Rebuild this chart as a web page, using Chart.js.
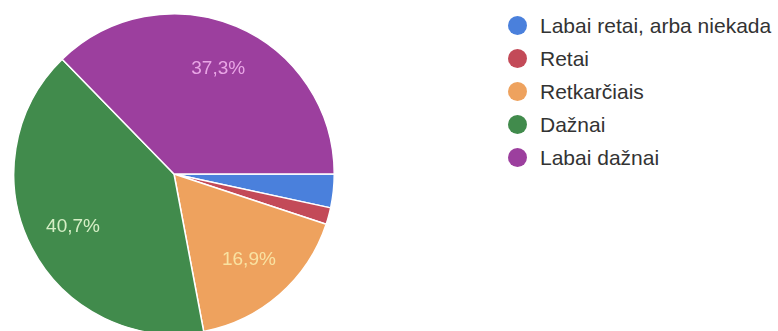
<!DOCTYPE html>
<html lang="lt">
<head>
<meta charset="utf-8">
<script src="https://cdn.jsdelivr.net/npm/chart.js@4/dist/chart.umd.min.js"></script>
<style>
  html, body { margin: 0; padding: 0; background: #fff; }
  body { width: 778px; height: 331px; overflow: hidden; position: relative; font-family: "Liberation Sans", Arial, sans-serif; }
  #pieBox { position: absolute; left: 12.5px; top: 13px; width: 322px; height: 322px; }
  #legend { position: absolute; left: 508px; top: 9px; }
  .legend-row { display: flex; align-items: center; height: 33px; font-size: 21px; color: #333333; white-space: nowrap; }
  .legend-row i { display: inline-block; width: 19px; height: 19px; border-radius: 50%; margin-right: 13px; }
</style>
</head>
<body>
<div id="pieBox"><canvas id="pie"></canvas></div>
<div id="legend"></div>
<script>
// Atsakymų pasiskirstymas (n = 59)
const categories = ['Labai retai, arba niekada', 'Retai', 'Retkarčiais', 'Dažnai', 'Labai dažnai'];
const counts = [2, 1, 10, 24, 22];
const sliceColors = ['#4a80dc', '#c34a58', '#eea25e', '#418b4c', '#9c3f9e'];
const labelColors = ['#ffffff', '#ffffff', '#f9e2a2', '#d6efc6', '#e9a6e6'];
const labelMinPct = 5;

const total = counts.reduce((s, v) => s + v, 0);

// procentai ant skilčių, su kableliu kaip dešimtainiu skirtuku
const sliceLabels = {
    id: 'sliceLabels',
    afterDatasetsDraw(chart) {
        const { ctx } = chart;
        const meta = chart.getDatasetMeta(0);
        ctx.save();
        ctx.font = '19px "Liberation Sans", Arial, sans-serif';
        ctx.textAlign = 'center';
        ctx.textBaseline = 'middle';
        meta.data.forEach((arc, i) => {
            const pct = counts[i] / total * 100;
            if (pct < labelMinPct) return;
            const mid = (arc.startAngle + arc.endAngle) / 2;
            const r = arc.outerRadius * 0.71;
            ctx.fillStyle = labelColors[i];
            ctx.fillText(pct.toFixed(1).replace('.', ',') + '%', arc.x + Math.cos(mid) * r, arc.y + Math.sin(mid) * r);
        });
        ctx.restore();
    },
};

new Chart(document.getElementById('pie'), {
    type: 'pie',
    data: {
        labels: categories,
        datasets: [{
            data: counts,
            backgroundColor: sliceColors,
            borderColor: '#ffffff',
            borderWidth: 1.5,
            hoverOffset: 0,
        }],
    },
    options: {
        responsive: true,
        maintainAspectRatio: false,
        animation: false,
        rotation: 90,
        layout: { padding: 0 },
        plugins: { legend: { display: false }, tooltip: { enabled: false } },
    },
    plugins: [sliceLabels],
});

document.getElementById('legend').innerHTML = categories.map((c, i) =>
    `<div class="legend-row"><i style="background:${sliceColors[i]}"></i>${c}</div>`
).join('');
</script>
</body>
</html>
